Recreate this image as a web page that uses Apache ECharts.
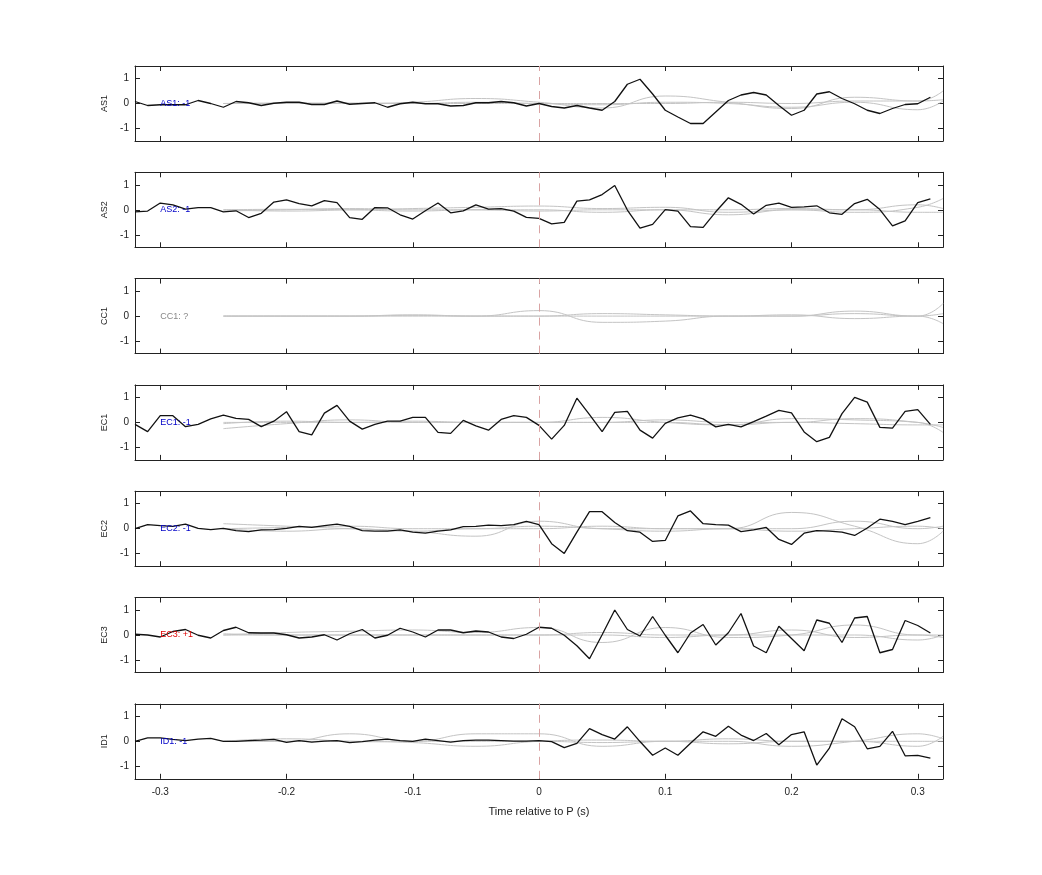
<!DOCTYPE html>
<html><head><meta charset="utf-8">
<script src="https://cdn.jsdelivr.net/npm/echarts@6/dist/echarts.min.js"></script>
<style>html,body{margin:0;padding:0;background:#fff}#c{width:1042px;height:875px}</style>
</head><body><div id="c"></div>
<script>
const stations = ['AS1','AS2','CC1','EC1','EC2','EC3','ID1'];
const polarityLabels = ['AS1: -1','AS2: -1','CC1: ?','EC1: -1','EC2: -1','EC3: +1','ID1: -1'];
const labelColors = ['#0000c8','#0000c8','#888888','#0000c8','#0000c8','#e00000','#0000c8'];
const xTicks = [-0.3,-0.2,-0.1,0,0.1,0.2,0.3];
const yTicks = [-1,0,1];
const xStart = -0.32, xStep = 0.01;
const greyX = [-0.25,-0.2,-0.15,-0.1,-0.05,0,0.05,0.1,0.15,0.2,0.25,0.3,0.32];

const AS1 = [0.08,-0.08,-0.05,-0.05,-0.05,0.12,0,-0.15,0.08,0.03,-0.08,0.01,0.05,0.05,-0.04,-0.04,0.1,-0.03,0,0.03,-0.15,-0.01,0.05,-0.01,-0.01,-0.1,-0.08,0.03,0.03,0.08,0.03,-0.1,0,-0.12,-0.18,-0.08,-0.18,-0.27,0.08,0.77,0.97,0.38,-0.27,-0.54,-0.8,-0.8,-0.34,0.12,0.34,0.44,0.34,-0.08,-0.47,-0.27,0.38,0.47,0.2,-0.01,-0.27,-0.4,-0.2,-0.04,-0.01,0.25];
const AS2 = [-0.08,-0.05,0.27,0.2,0.03,0.09,0.09,-0.08,-0.04,-0.31,-0.14,0.31,0.4,0.25,0.16,0.37,0.29,-0.31,-0.38,0.09,0.08,-0.2,-0.37,-0.04,0.27,-0.12,-0.04,0.2,0.03,0.05,-0.05,-0.3,-0.34,-0.56,-0.5,0.35,0.4,0.61,0.97,-0.01,-0.73,-0.58,0.01,-0.05,-0.67,-0.7,-0.08,0.48,0.22,-0.17,0.18,0.27,0.1,0.12,0.16,-0.12,-0.18,0.25,0.42,0.01,-0.64,-0.44,0.29,0.44];
const CC1 = [];
const EC1 = [-0.08,-0.37,0.27,0.27,-0.17,-0.08,0.14,0.29,0.16,0.12,-0.17,0.05,0.43,-0.37,-0.5,0.37,0.68,0.05,-0.27,-0.08,0.05,0.05,0.2,0.2,-0.4,-0.44,0.08,-0.14,-0.31,0.12,0.27,0.2,-0.12,-0.67,-0.12,0.97,0.31,-0.37,0.4,0.44,-0.31,-0.63,-0.04,0.18,0.29,0.14,-0.18,-0.08,-0.18,0.03,0.25,0.48,0.38,-0.38,-0.77,-0.6,0.35,1.0,0.81,-0.2,-0.23,0.44,0.51,-0.08];
const EC2 = [0,0.16,0.12,0.09,0.18,0.01,-0.04,0.01,-0.08,-0.12,-0.05,-0.04,0.01,0.09,0.05,0.12,0.18,0.09,-0.08,-0.1,-0.1,-0.05,-0.14,-0.18,-0.1,-0.05,0.08,0.09,0.14,0.12,0.16,0.29,0.16,-0.6,-0.99,-0.14,0.68,0.68,0.25,-0.08,-0.14,-0.51,-0.47,0.51,0.71,0.2,0.16,0.14,-0.12,-0.05,0.05,-0.43,-0.63,-0.18,-0.08,-0.1,-0.14,-0.27,0.03,0.38,0.29,0.16,0.29,0.44];
const EC3 = [0.03,0,-0.08,0.14,0.22,-0.01,-0.12,0.18,0.31,0.09,0.08,0.08,0.01,-0.12,-0.08,0.01,-0.2,0.05,0.22,-0.12,-0.01,0.27,0.12,-0.08,0.2,0.2,0.09,0.16,0.12,-0.08,-0.14,0.03,0.31,0.27,-0.01,-0.43,-0.95,0.01,1.0,0.22,-0.04,0.74,-0.01,-0.71,0.08,0.42,-0.4,0.09,0.86,-0.44,-0.71,0.35,-0.14,-0.63,0.6,0.47,-0.3,0.68,0.74,-0.71,-0.58,0.58,0.38,0.08];
const ID1 = [0,0.14,0.14,0.08,0.03,0.09,0.12,0,0,0.03,0.05,0.08,-0.04,0.03,-0.03,0.01,0.03,-0.05,-0.01,0.05,0.09,0.03,0,0.09,0.03,-0.03,0.03,0.05,0.05,0.03,0.01,0.01,0.03,-0.01,-0.25,-0.08,0.51,0.27,0.09,0.58,-0.01,-0.56,-0.27,-0.56,-0.08,0.38,0.2,0.6,0.25,0.03,0.31,-0.14,0.27,0.38,-0.95,-0.27,0.9,0.58,-0.3,-0.2,0.4,-0.58,-0.56,-0.67];
const blackTraces = [AS1,AS2,CC1,EC1,EC2,EC3,ID1];

const greyAS1 = [[0,0,0,0.05,0.2,0.05,-0.18,0.3,0.05,-0.2,0.25,0.1,0.5],[0,0,0.02,0,0.05,0,-0.05,0.05,0,-0.15,0.05,-0.25,0.1],[0,0.02,0,0,0,0,0,0,0.05,0,0.1,0.1,0.15]];
const greyAS2 = [[0,-0.05,0,0.05,0.1,0.15,0.05,0.1,-0.1,0,-0.1,0.1,0.45],[0,0.02,0,-0.05,0,0,-0.1,0,0,0.05,0,0.2,0.05],[-0.05,0,0.05,0,0,-0.05,0,0,-0.2,0,0,-0.1,-0.1]];
const greyCC1 = [[0,0,0,0.03,0,0.22,-0.25,-0.2,0,0,0.1,0,0.5],[0,0,0,0.05,0,0,0.1,0.05,0,0,0.2,0,0.1],[0,0,0,0,0,0,0,0,0,0.05,-0.1,0,-0.3]];
const greyEC1 = [[-0.25,-0.05,0.1,0,0,0,0.2,0,-0.1,0.15,0.1,0,-0.4],[-0.05,0.05,0,0,0,0,0,0.1,0,0,0.15,0,-0.2],[0,0,0,0.05,0,0,0,0,-0.1,0,-0.05,-0.1,-0.1]];
const greyEC2 = [[0.2,0.1,0,-0.1,-0.3,0.3,0,0,0,0.65,0.1,-0.6,-0.1],[0,0.05,0.1,0,0,0.1,0,-0.1,0,0,0.3,0,0.1],[0,-0.1,0,-0.1,0,0,0.1,0,0,-0.1,0,0.1,0]];
const greyEC3 = [[0,0.1,0.15,0.2,0.1,0.3,-0.3,0.3,-0.1,0,0.4,0,0],[0.05,0,0,0,0,0,0.1,0,0,0.2,-0.1,0,-0.1],[0,0,0,0,0,0,0,-0.1,0,0,0,-0.2,0]];
const greyID1 = [[0,0,0.3,0,0.3,0.3,-0.2,0,0,-0.2,0,0.3,0.1],[0,0.1,0,-0.05,-0.2,0,0.05,0,0.1,0,0,-0.2,0.2],[0,0,0,0,0,0,-0.05,0,-0.1,0,0,0,0]];
const greyTraces = [greyAS1,greyAS2,greyCC1,greyEC1,greyEC2,greyEC3,greyID1];

const FONT = 'Liberation Sans';
const grids=[],xAxes=[],yAxes=[],series=[],titles=[];
stations.forEach((st,k)=>{
  const top = 66 + k*106.3;
  grids.push({left:135,width:808,top:top,height:75});
  const last = k===stations.length-1;
  const common = {min:-0.32,max:0.32,gridIndex:k,type:'value',
    axisLine:{show:true,onZero:false,lineStyle:{color:'#222',width:1}},
    axisTick:{show:true,inside:true,length:5,customValues:xTicks,lineStyle:{color:'#222'}},
    splitLine:{show:false}};
  xAxes.push(Object.assign({},common,{position:'bottom',
    axisLabel:{show:last,customValues:xTicks,fontFamily:FONT,fontSize:10,color:'#222',formatter:v=>String(Math.round(v*10)/10)},
    name:last?'Time relative to P (s)':'',nameLocation:'middle',nameGap:28,nameTextStyle:{fontFamily:FONT,fontSize:11,color:'#222'}}));
  xAxes.push(Object.assign({},common,{position:'top',axisLabel:{show:false}}));
  const yc = {min:-1.5,max:1.5,gridIndex:k,type:'value',
    axisLine:{show:true,onZero:false,lineStyle:{color:'#222',width:1}},
    axisTick:{show:true,inside:true,length:5,customValues:yTicks,lineStyle:{color:'#222'}},
    splitLine:{show:false}};
  yAxes.push(Object.assign({},yc,{position:'left',
    axisLabel:{customValues:yTicks,fontFamily:FONT,fontSize:10,color:'#222',margin:6},
    name:st,nameLocation:'middle',nameGap:24,nameTextStyle:{fontFamily:FONT,fontSize:9,color:'#222'}}));
  yAxes.push(Object.assign({},yc,{position:'right',axisLabel:{show:false}}));
  greyTraces[k].forEach(g=>{
    series.push({type:'line',xAxisIndex:2*k,yAxisIndex:2*k,data:g.map((v,i)=>[greyX[i],v]),
      smooth:0.5,showSymbol:false,silent:true,lineStyle:{color:'#c4c4c4',width:1},z:2});
  });
  const b = blackTraces[k];
  series.push({type:'line',xAxisIndex:2*k,yAxisIndex:2*k,data:b.map((v,i)=>[xStart+i*xStep,v]),
    showSymbol:false,silent:true,lineStyle:{color:'#111',width:1.3},z:4,
    markLine:{symbol:'none',silent:true,label:{show:false},lineStyle:{color:'#d9a3a3',type:[8,6],width:1},data:[{xAxis:0}]},
    markPoint:{symbol:'circle',symbolSize:0,data:[{coord:[-0.3,0],label:{show:true,position:'right',distance:0,formatter:polarityLabels[k],color:labelColors[k],fontFamily:FONT,fontSize:9}}]}});
});
const chart = echarts.init(document.getElementById('c'));
chart.setOption({animation:false,backgroundColor:'#fff',grid:grids,xAxis:xAxes,yAxis:yAxes,series:series});
</script></body></html>
